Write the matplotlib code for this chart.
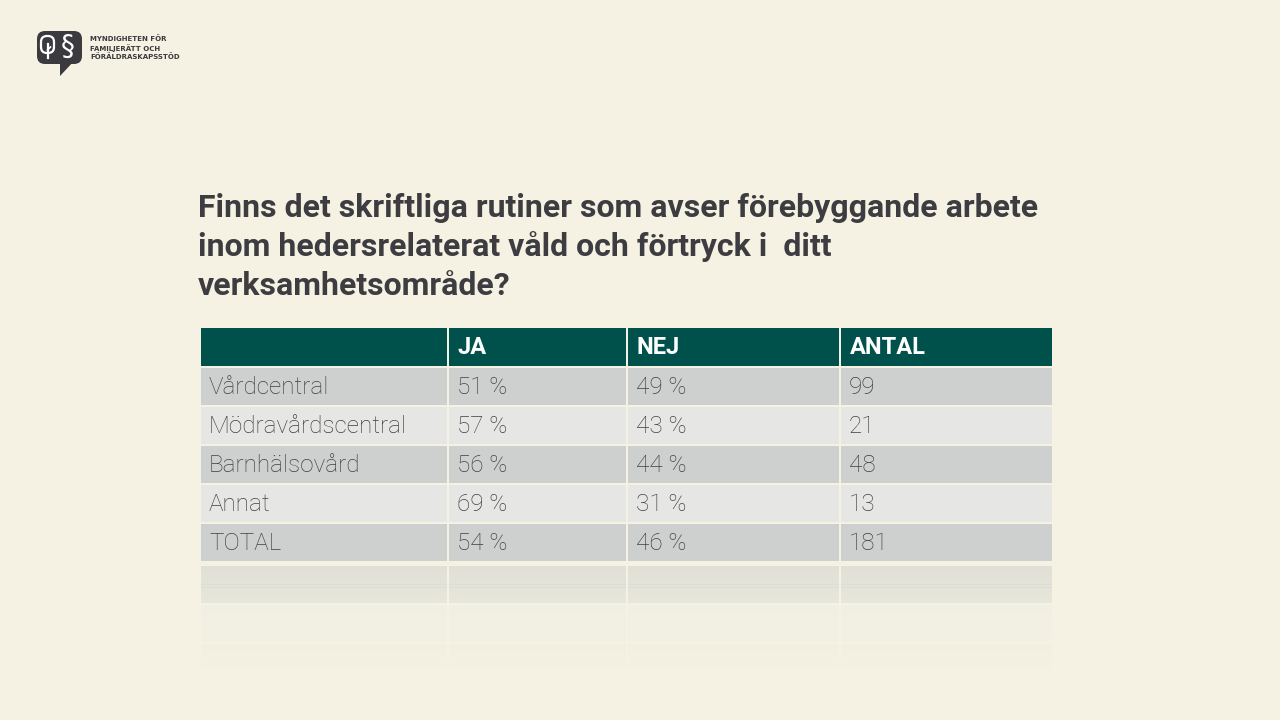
import matplotlib.pyplot as plt
from matplotlib.patches import Rectangle, FancyBboxPatch, Polygon

# ---- data ----
title = ("Finns det skriftliga rutiner som avser förebyggande arbete\n"
         "inom hedersrelaterat våld och förtryck i  ditt\n"
         "verksamhetsområde?")
columns = ["", "JA", "NEJ", "ANTAL"]
categories = ["Vårdcentral", "Mödravårdscentral", "Barnhälsovård", "Annat", "TOTAL"]
ja = [51, 57, 56, 69, 54]
nej = [49, 43, 44, 31, 46]
antal = [99, 21, 48, 13, 181]
logo_lines = ["MYNDIGHETEN FÖR", "FAMILJERÄTT OCH", "FÖRÄLDRASKAPSSTÖD"]

# ---- style ----
bg = "#F5F2E3"
header_col = "#00514B"
row_cols = ["#CDD0CF", "#E6E7E4"]
text_col = "#3C3C41"
body_col = "#404044"

col_edges = [200, 448, 627, 840, 1053]
header_top, header_h = 328, 38
row_h, gap = 37.4, 1.6

fig = plt.figure(figsize=(12.8, 7.2), dpi=100, facecolor=bg)
ax = fig.add_axes([0, 0, 1, 1])
ax.set_xlim(0, 1280)
ax.set_ylim(720, 0)
ax.axis("off")
ax.set_facecolor(bg)

# title
ax.text(198, 193, title, fontsize=23, fontweight="bold", family="Roboto",
        color=text_col, va="top", ha="left", linespacing=1.34)


def cell(x0, x1, y0, h, color, alpha=1.0):
    ax.add_patch(Rectangle((x0 + 0.8, y0), x1 - x0 - 1.6, h, facecolor=color,
                           edgecolor="none", alpha=alpha))


# header
for i, name in enumerate(columns):
    cell(col_edges[i], col_edges[i + 1], header_top, header_h, header_col)
    if name:
        ax.text(col_edges[i] + 10, header_top + header_h / 2 + 1, name,
                fontsize=17, fontweight="bold", family="Roboto",
                color="white", va="center", ha="left")

# body rows
y = header_top + header_h + gap
for r, cat in enumerate(categories):
    color = row_cols[r % 2]
    values = [cat, f"{ja[r]} %", f"{nej[r]} %", str(antal[r])]
    for i, v in enumerate(values):
        cell(col_edges[i], col_edges[i + 1], y, row_h, color)
        ax.text(col_edges[i] + 9, y + row_h / 2 + 1, v, fontsize=17.5,
                fontweight="light", family="Roboto", color=body_col,
                va="center", ha="left")
    y += row_h + gap

# faded reflection of the table
y += 3
refl_cols = ["#D9DAD3", "#ECEDE4", "#E4E5DC"]
for k in range(3):
    steps = 12
    for s in range(steps):
        a = max(0.0, 0.75 - (k * steps + s) / (3 * steps) * 0.85)
        for i in range(4):
            cell(col_edges[i], col_edges[i + 1], y + s * row_h / steps,
                 row_h / steps + 0.3, refl_cols[k], alpha=a)
    y += row_h + gap

# logo
logo_col = "#3A3A3F"
ax.add_patch(FancyBboxPatch((37, 31), 45, 33, boxstyle="round,pad=0,rounding_size=8",
                            facecolor=logo_col, edgecolor="none"))
ax.add_patch(Polygon([[60, 60], [75, 60], [60, 76]], closed=True,
                     facecolor=logo_col, edgecolor="none"))
ax.add_patch(FancyBboxPatch((41, 36), 13, 17, boxstyle="round,pad=0,rounding_size=6",
                            facecolor="none", edgecolor="white", linewidth=1.6))
ax.plot([47.5, 47.5], [44, 58], color="white", lw=1.6)
ax.plot([47.5, 50.5], [50, 47], color="white", lw=1.2)
ax.text(68, 47, "§", fontsize=20, family="DejaVu Sans", color="white",
        va="center", ha="center")
for i, line in enumerate(logo_lines):
    ax.text(90, 39 + i * 9, line, fontsize=5.0, fontweight="bold",
            family="DejaVu Sans", color=logo_col, va="center", ha="left")

fig.savefig("out.png", dpi=100, facecolor=bg)
